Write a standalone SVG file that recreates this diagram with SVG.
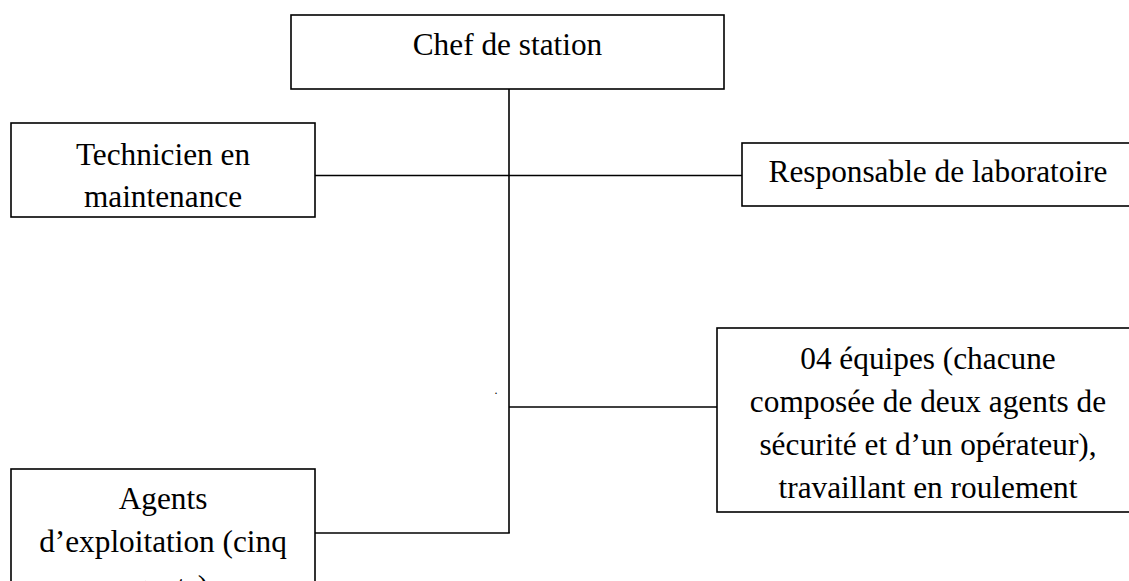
<svg xmlns="http://www.w3.org/2000/svg" width="1129" height="581" viewBox="0 0 1129 581">
  <style>
    .box { fill: #fff; stroke: #000; stroke-width: 1.6; }
    .lbl { font-family: "Liberation Serif", "Times New Roman", serif; font-size: 31.3px; fill: #000; text-anchor: middle; }
    .conn { stroke: #000; stroke-width: 1.6; fill: none; }
  </style>
  <rect width="1129" height="581" fill="#fff"/>
  <g id="connectors">
    <line class="conn" x1="509" y1="89" x2="509" y2="533"/>
    <line class="conn" x1="315" y1="175.5" x2="742" y2="175.5"/>
    <line class="conn" x1="509" y1="407" x2="717" y2="407"/>
    <line class="conn" x1="315" y1="533" x2="509.8" y2="533"/>
  </g>
  <g id="chef">
    <rect class="box" x="291" y="15" width="433" height="74"/>
    <text class="lbl" x="507.5" y="55">Chef de station</text>
  </g>
  <g id="technicien">
    <rect class="box" x="11" y="123" width="304" height="94"/>
    <text class="lbl" x="163" y="165">Technicien en</text>
    <text class="lbl" x="163" y="207">maintenance</text>
  </g>
  <g id="responsable">
    <rect class="box" x="742" y="143" width="392" height="63"/>
    <text class="lbl" x="938" y="182">Responsable de laboratoire</text>
  </g>
  <g id="equipes">
    <rect class="box" x="717" y="328" width="422" height="184"/>
    <text class="lbl" x="928" y="369">04 équipes (chacune</text>
    <text class="lbl" x="928" y="412">composée de deux agents de</text>
    <text class="lbl" x="928" y="455">sécurité et d’un opérateur),</text>
    <text class="lbl" x="928" y="498">travaillant en roulement</text>
  </g>
  <g id="agents">
    <rect class="box" x="11" y="469" width="304" height="130"/>
    <text class="lbl" x="163" y="509">Agents</text>
    <text class="lbl" x="163" y="552">d’exploitation (cinq</text>
    <text class="lbl" x="163" y="597">agents)</text>
  </g>
  <text x="494.5" y="394" font-family="Liberation Serif, serif" font-size="12" fill="#000">.</text>
</svg>
